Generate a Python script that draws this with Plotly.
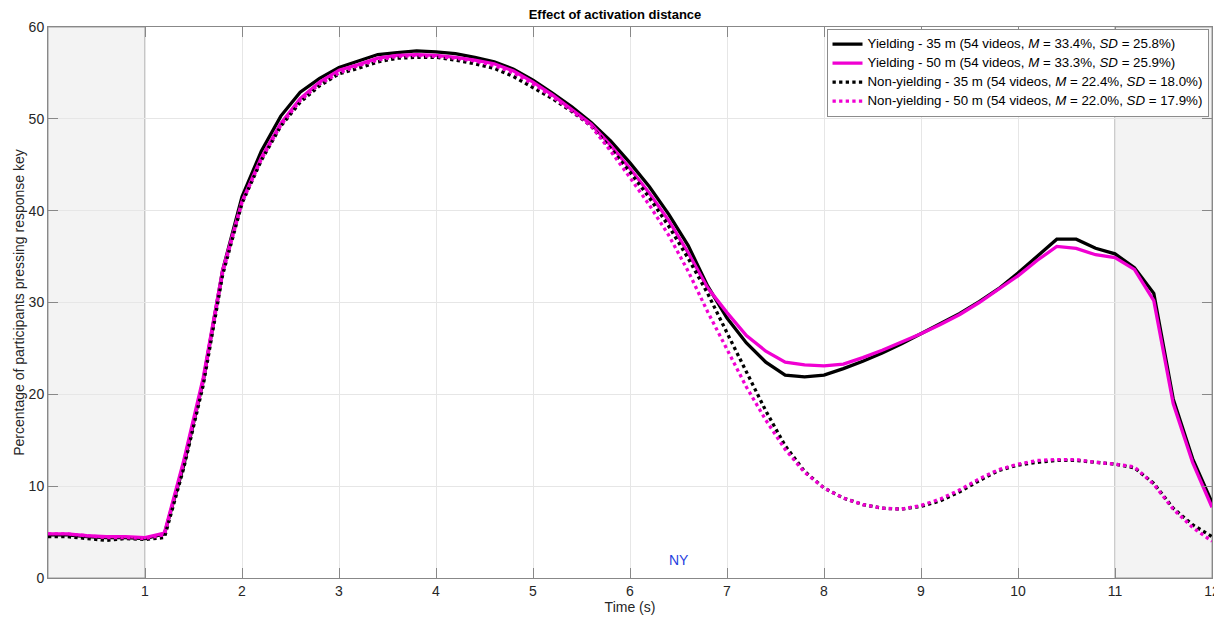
import plotly.graph_objects as go

time_s = [round(i * 0.2, 1) for i in range(61)]

yield_35 = [4.7, 4.7, 4.5, 4.4, 4.4, 4.3, 4.8, 12.3, 21.5, 33.5, 41.5, 46.5, 50.3, 52.9, 54.4, 55.6,
            56.3, 57.0, 57.2, 57.4, 57.3, 57.1, 56.7, 56.2, 55.4, 54.2, 52.8, 51.3, 49.6, 47.6,
            45.2, 42.6, 39.6, 36.2, 31.8, 28.3, 25.6, 23.5, 22.1, 21.9, 22.1, 22.8, 23.6, 24.5,
            25.5, 26.6, 27.6, 28.8, 30.1, 31.5, 33.2, 35.1, 36.9, 36.9, 35.9, 35.3, 33.8, 31.0,
            19.5, 13.0, 8.2]
yield_50 = [4.8, 4.8, 4.6, 4.5, 4.5, 4.4, 4.9, 12.8, 21.8, 33.5, 41.0, 45.8, 49.5, 52.2, 54.0, 55.3,
            55.9, 56.6, 56.9, 57.0, 56.9, 56.7, 56.4, 56.0, 55.2, 54.0, 52.6, 51.0, 49.4, 47.1,
            44.6, 41.9, 38.9, 35.4, 31.6, 28.9, 26.4, 24.7, 23.5, 23.2, 23.1, 23.3, 24.0, 24.8,
            25.7, 26.6, 27.6, 28.7, 30.0, 31.4, 32.9, 34.6, 36.1, 35.9, 35.2, 34.9, 33.6, 30.2,
            19.0, 12.6, 7.7]
nonyield_35 = [4.5, 4.5, 4.3, 4.1, 4.3, 4.2, 4.4, 12.0, 21.0, 33.0, 40.8, 45.5, 49.2, 51.8, 53.6, 54.9,
               55.5, 56.2, 56.6, 56.7, 56.7, 56.4, 56.0, 55.5, 54.6, 53.4, 52.2, 50.8, 49.2, 46.8,
               44.2, 41.4, 38.3, 34.8, 31.0, 26.7, 22.4, 18.2, 14.4, 11.6, 9.8, 8.7, 8.0, 7.6,
               7.5, 7.8, 8.4, 9.4, 10.6, 11.7, 12.3, 12.6, 12.8, 12.8, 12.6, 12.4, 12.0, 10.3,
               7.6, 5.8, 4.5]
nonyield_50 = [4.8, 4.8, 4.6, 4.4, 4.4, 4.3, 4.7, 12.6, 21.4, 33.2, 40.9, 45.6, 49.3, 52.0, 53.8, 55.0,
               55.8, 56.4, 56.8, 56.9, 56.8, 56.6, 56.3, 55.8, 55.0, 53.8, 52.4, 50.9, 49.2, 46.5,
               43.6, 40.6, 37.3, 33.4, 29.0, 24.9, 20.8, 17.2, 14.0, 11.5, 9.8, 8.7, 8.0, 7.6,
               7.5, 7.9, 8.6, 9.6, 10.8, 11.8, 12.4, 12.8, 12.9, 12.9, 12.6, 12.4, 12.1, 10.2,
               7.5, 5.5, 4.0]

series_names = [
    "Yielding - 35 m (54 videos, <i>M</i> = 33.4%, <i>SD</i> = 25.8%)",
    "Yielding - 50 m (54 videos, <i>M</i> = 33.3%, <i>SD</i> = 25.9%)",
    "Non-yielding - 35 m (54 videos, <i>M</i> = 22.4%, <i>SD</i> = 18.0%)",
    "Non-yielding - 50 m (54 videos, <i>M</i> = 22.0%, <i>SD</i> = 17.9%)",
]
x_ticks = [1, 2, 3, 4, 5, 6, 7, 8, 9, 10, 11, 12]
y_ticks = [0, 10, 20, 30, 40, 50, 60]
shaded_ranges = [(0, 1), (11, 12)]

BLACK = "#000000"
MAGENTA = "#f000d2"
FONT = "Liberation Sans, Arial, sans-serif"

fig = go.Figure()
styles = [(BLACK, "solid"), (MAGENTA, "solid"), (BLACK, "dot"), (MAGENTA, "dot")]
for name, ys, (c, d) in zip(series_names, [yield_35, yield_50, nonyield_35, nonyield_50], styles):
    fig.add_trace(go.Scatter(x=time_s, y=ys, mode="lines",
                             name='<span style="font-size:13.3px">' + name + "</span>",
                             line=dict(color=c, width=3.3, dash=d)))

for x0, x1 in shaded_ranges:
    fig.add_shape(type="rect", xref="x", yref="y", x0=x0, x1=x1, y0=0, y1=60,
                  fillcolor="#f3f3f3", line=dict(color="#999999", width=1), layer="below")

fig.add_annotation(x=6.5, y=2, xref="x", yref="y", text="NY", showarrow=False,
                   font=dict(color="#1f3fe0", size=14, family=FONT))

# page has an 8px body margin; figure sized/margined so the plot area lands where the reference has it
fig.update_layout(
    width=1214, height=611,
    margin=dict(l=40, r=10, t=19, b=41),
    paper_bgcolor="white", plot_bgcolor="white",
    font=dict(family=FONT, size=14, color="#262626"),
    title=dict(text="<b>Effect of activation distance</b>", x=0.5, xanchor="center",
               y=0.997, yanchor="top", font=dict(size=13, color="#000000")),
    legend=dict(x=0.997, y=0.997, xanchor="right", yanchor="top", bgcolor="white",
                bordercolor="#8c8c8c", borderwidth=1, font=dict(size=10.5, color="#000000"),
                tracegroupgap=0, itemwidth=30),
    showlegend=True,
)
fig.update_xaxes(range=[0, 12], tickvals=x_ticks, ticks="inside", ticklen=10, tickcolor="#888888",
                 showgrid=True, gridcolor="#e6e6e6", gridwidth=1, zeroline=False,
                 showline=True, linecolor="#888888", linewidth=1, mirror="ticks",
                 automargin=False, ticklabeloverflow="allow", ticklabelstandoff=0,
                 title=dict(text="Time (s)", standoff=0, font=dict(size=14)),
                 tickfont=dict(size=14))
fig.update_yaxes(range=[0, 60], tickvals=y_ticks, ticks="inside", ticklen=10, tickcolor="#888888",
                 showgrid=True, gridcolor="#e6e6e6", gridwidth=1, zeroline=False,
                 showline=True, linecolor="#888888", linewidth=1, mirror="ticks",
                 automargin=False,
                 title=dict(text="Percentage of participants pressing response key", standoff=0,
                            font=dict(size=14)),
                 tickfont=dict(size=14))

fig.write_html("out.html")
